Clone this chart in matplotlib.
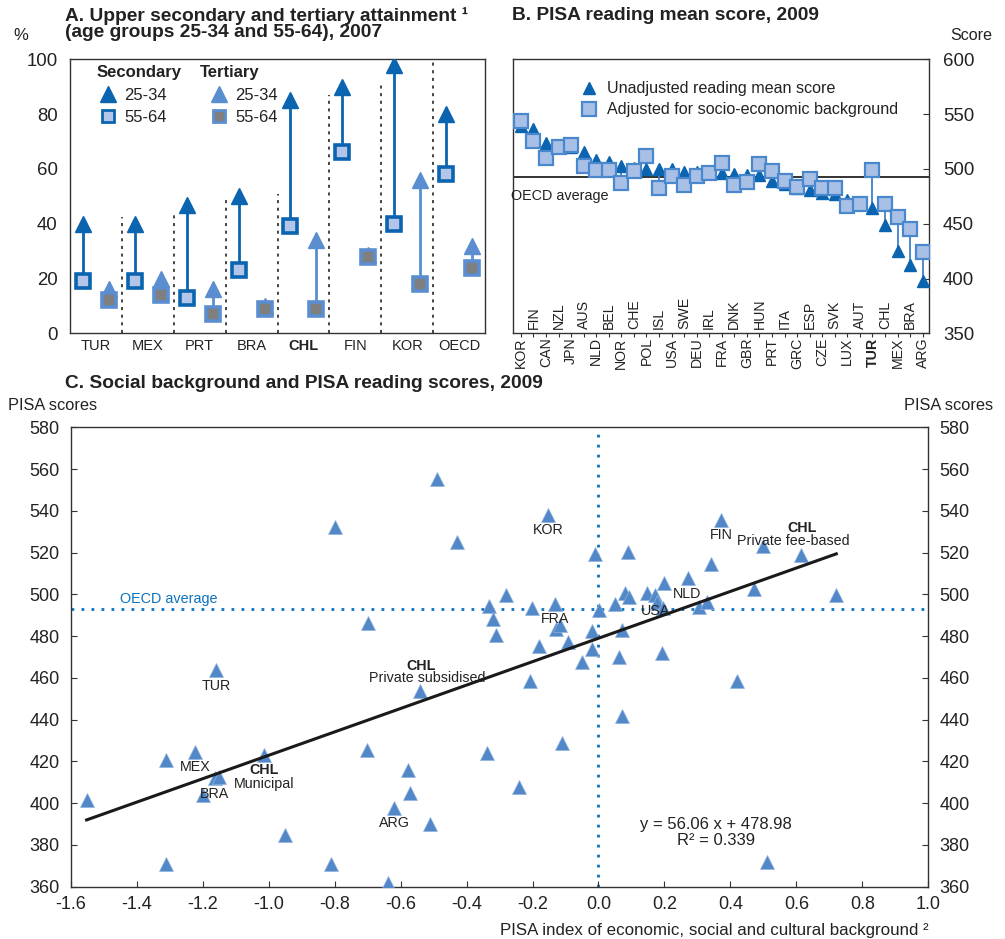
import matplotlib
matplotlib.use('Agg')
import matplotlib.pyplot as plt
from matplotlib.lines import Line2D
import matplotlib.transforms as mtransforms
import numpy as np

plt.rcParams['font.family'] = ['Liberation Sans', 'DejaVu Sans']
plt.rcParams['axes.unicode_minus'] = False

# ---------------- Panel A data ----------------
a_countries = ['TUR', 'MEX', 'PRT', 'BRA', 'CHL', 'FIN', 'KOR', 'OECD']
sec_2534 = [40, 40, 47, 50, 85, 90, 98, 80]
sec_5564 = [19, 19, 13, 23, 39, 66, 40, 58]
ter_2534 = [16, 20, 16, 10, 34, 28.5, 56, 32]
ter_5564 = [12, 14, 7, 9, 9, 28, 18, 24]
a_divider_tops = [42.5, 43, 50, 51, 87, 91, 100]

# ---------------- Panel B data ----------------
b_countries = ['KOR', 'FIN', 'CAN', 'NZL', 'JPN', 'AUS', 'NLD', 'BEL', 'NOR', 'CHE',
               'POL', 'ISL', 'USA', 'SWE', 'DEU', 'IRL', 'FRA', 'DNK', 'GBR', 'HUN',
               'PRT', 'ITA', 'GRC', 'ESP', 'CZE', 'SVK', 'LUX', 'AUT', 'TUR', 'CHL',
               'MEX', 'BRA', 'ARG']
b_unadjusted = [539, 536, 524, 521, 520, 515, 508, 506, 503, 501,
                500, 500, 500, 497, 497, 496, 496, 495, 494, 494,
                489, 486, 483, 481, 478, 477, 472, 470, 464, 449,
                425, 412, 398]
b_adjusted = [544, 525.5, 509.7, 520.3, 521.8, 502.7, 499, 499, 487.5, 498.4,
              511.8, 482.9, 493.6, 485.3, 493.6, 496, 505.1, 485.3, 488.4, 504.5,
              498.4, 489, 483.8, 490.8, 482.3, 482.3, 466, 468, 499, 468,
              455.8, 444.9, 424]
b_oecd_avg = 493

# ---------------- Panel C data ----------------
c_escs = [-1.552, -1.311, -1.311, -1.223, -1.200, -1.163, -1.150, -1.160, -1.013, -0.950,
          -0.811, -0.799, -0.703, -0.700, -0.639, -0.619, -0.579, -0.571, -0.541, -0.510,
          -0.490, -0.430, -0.338, -0.331, -0.320, -0.310, -0.280, -0.240, -0.207, -0.202,
          -0.180, -0.152, -0.131, -0.128, -0.116, -0.111, -0.091, -0.050, -0.020, -0.020,
          -0.010, 0.001, 0.049, 0.061, 0.071, 0.071, 0.079, 0.091, 0.089, 0.147,
          0.172, 0.177, 0.192, 0.197, 0.200, 0.270, 0.305, 0.329, 0.342, 0.371,
          0.420, 0.470, 0.500, 0.511, 0.614, 0.721]
c_score = [401.5, 370.7, 420.6, 424.6, 403.9, 411.9, 412.3, 463.7, 423.0, 384.7,
           370.7, 532.3, 425.7, 486.5, 361.6, 397.8, 415.8, 404.7, 453.6, 389.9,
           555.4, 525.1, 423.8, 494.4, 488.4, 480.4, 499.6, 407.8, 458.4, 493.5,
           475.3, 538.2, 495.6, 483.6, 485.2, 428.6, 477.2, 467.4, 482.5, 473.6,
           519.2, 492.5, 495.6, 469.8, 482.8, 441.7, 500.7, 498.8, 520.3, 500.7,
           499.6, 496.4, 471.7, 493.7, 505.5, 507.6, 494.0, 496.4, 514.4, 535.8,
           458.6, 502.4, 523.0, 371.7, 518.7, 499.6]
c_labels = ['', '', '', 'MEX', '', 'BRA', '', 'TUR', 'CHL|Municipal', '',
            '', '', '', '', '', 'ARG', '', '', 'CHL|Private subsidised', '',
            '', '', '', '', '', '', '', '', '', '',
            '', 'KOR', 'FRA', '', '', '', '', '', '', '',
            '', '', '', '', '', '', '', '', '', '',
            'USA', '', '', '', '', 'NLD', '', '', '', 'FIN',
            '', '', '', '', 'CHL|Private fee-based', '']
c_oecd_avg_score = 493
c_oecd_avg_escs = 0.0
c_slope = 56.06
c_intercept = 478.98
c_r2 = 0.339
c_xticks = [-1.6, -1.4, -1.2, -1.0, -0.8, -0.6, -0.4, -0.2, 0.0, 0.2, 0.4, 0.6, 0.8, 1.0]
c_xticklabels = ['-1.6', '-1.4', '-1.2', '-1.0', '-0.8', '-0.6', '-0.4', '-0.2',
                 '0.0', '0.2', '0.4', '0.6', '0.8', '1.0']

# ---------------- Styles ----------------
DARK = '#0A64B0'
MED = '#5A8ED0'
SQ_LIGHT = '#B3C6EA'
SQ_GREY = '#7F7F80'
FRAME = '#333333'
TXT = '#222222'

W, H = 1005, 939
fig = plt.figure(figsize=(W / 100, H / 100), dpi=100)


def px_axes(l, t, r, b):
    return fig.add_axes([l / W, 1 - b / H, (r - l) / W, (b - t) / H])


def style_frame(ax):
    for s in ax.spines.values():
        s.set_color(FRAME)
        s.set_linewidth(1.0)


# ================= Panel A =================
axA = px_axes(70, 59.3, 485, 333.3)
style_frame(axA)
n = len(a_countries)
xs = np.arange(n) + 0.25
xt = np.arange(n) + 0.75
for i in range(n):
    axA.plot([xs[i], xs[i]], [sec_5564[i], sec_2534[i]], color=DARK, lw=2.0, zorder=2)
    axA.plot([xt[i], xt[i]], [ter_5564[i], ter_2534[i]], color=MED, lw=2.0, zorder=2)
axA.plot(xs, sec_2534, ls='none', marker='^', ms=12, color=DARK, mec=DARK, zorder=3)
axA.plot(xt, ter_2534, ls='none', marker='^', ms=12, color=MED, mec=MED, zorder=3)
axA.plot(xs, sec_5564, ls='none', marker='s', ms=9.5, mfc=SQ_LIGHT, mec=DARK, mew=2.6, zorder=4)
axA.plot(xt, ter_5564, ls='none', marker='s', ms=9.5, mfc=SQ_GREY, mec=MED, mew=2.6, zorder=4)
for k, top in enumerate(a_divider_tops):
    axA.plot([k + 1, k + 1], [0, top], color='#111111', lw=1.1, ls=(0, (2, 3)), zorder=1)
axA.set_xlim(0, n)
axA.set_ylim(0, 100)
axA.set_yticks(range(0, 101, 20))
axA.tick_params(axis='y', length=0, pad=9, labelsize=13.4, labelcolor=TXT)
axA.set_xticks(np.arange(n) + 0.5)
axA.set_xticklabels(a_countries)
axA.tick_params(axis='x', length=0, pad=4, labelsize=10.5, labelcolor=TXT)
for lab in axA.get_xticklabels():
    if lab.get_text() == 'CHL':
        lab.set_fontweight('bold')

axA.text(0.065, 0.953, 'Secondary', transform=axA.transAxes, fontsize=12,
         fontweight='bold', ha='left', va='center', color=TXT)
axA.text(0.313, 0.953, 'Tertiary', transform=axA.transAxes, fontsize=12,
         fontweight='bold', ha='left', va='center', color=TXT)
hA = [Line2D([], [], ls='none', marker='^', ms=11, color=DARK),
      Line2D([], [], ls='none', marker='s', ms=9, mfc=SQ_LIGHT, mec=DARK, mew=2),
      Line2D([], [], ls='none', marker='^', ms=11, color=MED),
      Line2D([], [], ls='none', marker='s', ms=9, mfc=SQ_GREY, mec=MED, mew=2)]
legA = axA.legend(hA, ['25-34', '55-64', '25-34', '55-64'], ncol=2, frameon=False,
                  loc='upper left', bbox_to_anchor=(0.071, 0.895), borderpad=0,
                  borderaxespad=0, handlelength=1.0, handletextpad=0.5,
                  columnspacing=2.6, labelspacing=0.42, fontsize=12)
for t in legA.get_texts():
    t.set_color(TXT)

fig.text(65 / W, 1 - 24 / H, 'A. Upper secondary and tertiary attainment \u00b9\n(age groups 25-34 and 55-64), 2007',
         fontsize=13.8, fontweight='bold', ha='left', va='center', linespacing=0.95, color=TXT)
fig.text(13 / W, 1 - 36 / H, '%', fontsize=12, ha='left', va='center', color=TXT)

# ================= Panel B =================
axB = px_axes(513.3, 59.3, 929, 333.3)
style_frame(axB)
nb = len(b_countries)
xb = np.arange(nb)
for i in range(nb):
    axB.plot([xb[i], xb[i]], [b_unadjusted[i], b_adjusted[i]], color='#3E82C8', lw=1.3, zorder=2)
axB.axhline(b_oecd_avg, color='#111111', lw=1.2, zorder=1)
axB.plot(xb, b_unadjusted, ls='none', marker='^', ms=9, color=DARK, zorder=3,
         label='Unadjusted reading mean score')
axB.plot(xb, b_adjusted, ls='none', marker='s', ms=9.5, mfc='#A9C0E6', mec='#4A88CE',
         mew=1.6, zorder=4, label='Adjusted for socio-economic background')
axB.set_xlim(-0.6, nb - 0.5)
axB.set_ylim(350, 600)
axB.yaxis.tick_right()
axB.set_yticks(range(350, 601, 50))
axB.tick_params(axis='y', direction='in', length=4, pad=10, labelsize=13.4,
                labelcolor=TXT, color=FRAME)
axB.set_xticks(xb)
axB.set_xticklabels([])
axB.tick_params(axis='x', direction='out', length=3, color=FRAME)
trB = mtransforms.blended_transform_factory(axB.transData, axB.transAxes)
for i, c in enumerate(b_countries):
    fw = 'bold' if c == 'TUR' else 'normal'
    if i % 2 == 0:
        axB.text(i, -0.015, c, transform=trB, rotation=90, ha='center', va='top',
                 fontsize=10.2, fontweight=fw, color=TXT)
    else:
        axB.text(i, 0.016, c, transform=trB, rotation=90, ha='center', va='bottom',
                 fontsize=10.2, fontweight=fw, color=TXT)
axB.text(-0.005, 475, 'OECD average', transform=mtransforms.blended_transform_factory(axB.transAxes, axB.transData),
         ha='left', va='center', fontsize=10.4, color=TXT)
legB = axB.legend(loc='upper left', bbox_to_anchor=(0.163, 0.92), frameon=False,
                  borderpad=0, borderaxespad=0, handlelength=1.0, handletextpad=0.6,
                  labelspacing=0.38, fontsize=11.6)
for t in legB.get_texts():
    t.set_color(TXT)

fig.text(512 / W, 1 - 15 / H, 'B. PISA reading mean score, 2009', fontsize=13.8,
         fontweight='bold', ha='left', va='center', color=TXT)
fig.text(971 / W, 1 - 35 / H, 'Score', fontsize=11.6, ha='center', va='center', color=TXT)

# ================= Panel C =================
axC = px_axes(70.8, 427.3, 928.3, 886.7)
style_frame(axC)
axC.axhline(c_oecd_avg_score, color='#0A72C0', lw=2.0, ls=(0, (1, 2.6)), zorder=1)
axC.axvline(c_oecd_avg_escs, color='#0A72C0', lw=2.0, ls=(0, (1, 2.6)), zorder=1)
axC.plot(c_escs, c_score, ls='none', marker='^', ms=9.5, color='#5288C8',
         mec='#8FB2DD', mew=0.5, zorder=3)
xfit = np.array([min(c_escs), max(c_escs)])
axC.plot(xfit, c_slope * xfit + c_intercept, color='#1A1A1A', lw=2.2, zorder=4)
for x, y, lab in zip(c_escs, c_score, c_labels):
    if not lab:
        continue
    if '|' in lab:
        top, sub = lab.split('|')
        if sub == 'Municipal':
            o1, o2 = (0, -10.5), (0, -20.5)
        elif sub == 'Private subsidised':
            o1, o2 = (0.5, 18.5), (5.5, 9.5)
        else:
            o1, o2 = (0.5, 19.5), (-5.8, 10)
        axC.annotate(top, (x, y), xytext=o1, textcoords='offset points', ha='center',
                     va='center', fontsize=10.3, fontweight='bold', color=TXT, zorder=5)
        axC.annotate(sub, (x, y), xytext=o2, textcoords='offset points', ha='center',
                     va='center', fontsize=10.3, color=TXT, zorder=5)
    else:
        axC.annotate(lab, (x, y), xytext=(0, -11.3), textcoords='offset points',
                     ha='center', va='center', fontsize=10.3, color=TXT, zorder=5)
axC.text(-1.451, 498, 'OECD average', ha='left', va='center', fontsize=10.4, color='#0A72C0')
axC.text(0.357, 386, 'y = %.2f x + %.2f\nR\u00b2 = %.3f' % (c_slope, c_intercept, c_r2),
         ha='center', va='center', multialignment='center', fontsize=12,
         linespacing=1.05, color=TXT)
axC.set_xlim(-1.6, 1.0)
axC.set_ylim(360, 580)
axC.set_xticks(c_xticks)
axC.set_xticklabels(c_xticklabels)
axC.set_yticks(range(360, 581, 20))
axC.tick_params(axis='both', direction='in', length=4, labelsize=13, labelcolor=TXT,
                color=FRAME)
axC.tick_params(axis='y', left=True, right=True, labelleft=True, labelright=True, pad=8)
axC.tick_params(axis='x', pad=7)
axC.set_xlabel('PISA index of economic, social and cultural background \u00b2',
               fontsize=12.2, color=TXT, labelpad=4)
axC.xaxis.set_label_coords(1.0, -0.08)
axC.xaxis.label.set_horizontalalignment('right')

fig.text(65 / W, 1 - 384 / H, 'C. Social background and PISA reading scores, 2009',
         fontsize=13.8, fontweight='bold', ha='left', va='center', color=TXT)
fig.text(8 / W, 1 - 405 / H, 'PISA scores', fontsize=11.8, ha='left', va='center', color=TXT)
fig.text(993 / W, 1 - 405 / H, 'PISA scores', fontsize=11.8, ha='right', va='center', color=TXT)

fig.savefig('out.png', dpi=100)
